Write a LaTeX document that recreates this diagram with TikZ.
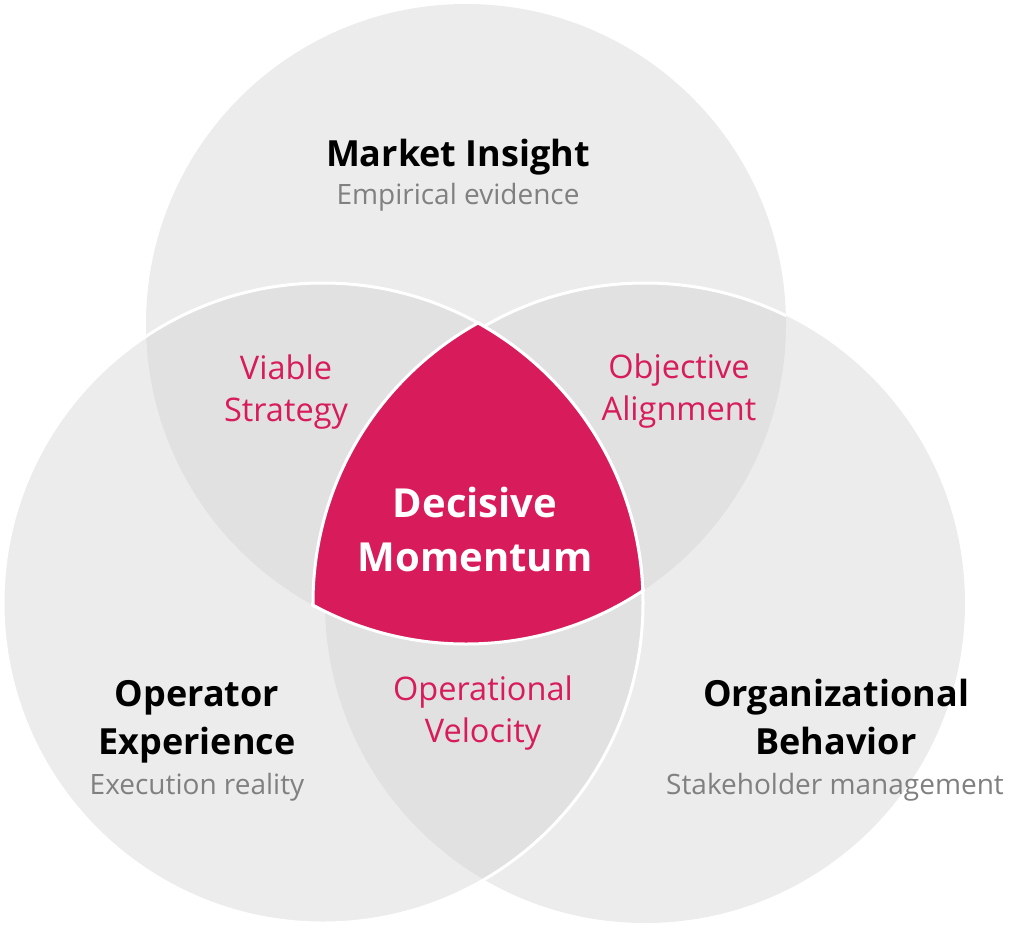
\documentclass[tikz,border=0pt]{standalone}
\usepackage{fontspec}
\setmainfont{Open Sans}
\usepackage{tikz}

\definecolor{venn}{RGB}{236,236,236}
\definecolor{vennover}{RGB}{225,225,225}
\definecolor{crimson}{RGB}{216,27,91}
\definecolor{subgray}{RGB}{128,128,128}

\begin{document}
\begin{tikzpicture}[x=1pt, y=-1pt]
			\tikzstyle{rim} = [draw=white, line width=3pt]
			\tikzstyle{title} = [anchor=base, align=center, inner sep=0pt, font=\bfseries\fontsize{36}{48}\selectfont]
			\tikzstyle{sub} = [anchor=base, align=center, inner sep=0pt, text=subgray, font=\fontsize{28}{32}\selectfont]
			\tikzstyle{pair} = [anchor=base, align=center, inner sep=0pt, text=crimson, font=\fontsize{32.5}{42}\selectfont]
			\tikzstyle{core} = [anchor=base, align=center, inner sep=0pt, text=white, font=\bfseries\fontsize{40}{54}\selectfont]
			\def\rad{320pt}
			\useasboundingbox (0,0) rectangle (1024,928);

			\coordinate (mc) at (466,324);
			\coordinate (oc) at (323,603);
			\coordinate (bc) at (645,603);
			\coordinate (cc) at (633,603);

			% discs
			\fill[venn] (mc) circle[radius=\rad] (oc) circle[radius=\rad] (bc) circle[radius=\rad];
			\begin{scope}
			\clip (mc) circle[radius=\rad];
			\fill[vennover] (oc) circle[radius=\rad] (bc) circle[radius=\rad];
			\end{scope}
			\begin{scope}
			\clip (oc) circle[radius=\rad];
			\fill[vennover] (bc) circle[radius=\rad];
			\end{scope}

			% white rims
			\draw[rim] (oc) circle[radius=\rad];
			\begin{scope}
			\clip (mc) circle[radius=\rad];
			\draw[rim] (bc) circle[radius=\rad];
			\end{scope}

			% centre
			\begin{scope}
			\clip (mc) circle[radius=\rad];
			\clip (oc) circle[radius=\rad];
			\fill[crimson] (cc) circle[radius=\rad];
			\end{scope}
			\begin{scope}
			\clip (oc) circle[radius=322pt];
			\clip (cc) circle[radius=322pt];
			\draw[rim] (mc) circle[radius=\rad];
			\end{scope}
			\begin{scope}
			\clip (mc) circle[radius=322pt];
			\clip (cc) circle[radius=322pt];
			\draw[rim] (oc) circle[radius=\rad];
			\end{scope}
			\begin{scope}
			\clip (mc) circle[radius=322pt];
			\clip (oc) circle[radius=322pt];
			\draw[rim] (cc) circle[radius=\rad];
			\end{scope}

			\path
			node[title] (mi) at (458,167) {Market Insight}
			node[sub] (mis) at (458,204) {Empirical evidence}
			node[title] (oe) at (197,754) {Operator\\Experience}
			node[sub] (oes) at (197,794) {Execution reality}
			node[title] (ob) at (836,754) {Organizational\\Behavior}
			node[sub] (obs) at (835,794) {Stakeholder management}

			node[pair] (vs) at (286,421) {Viable\\Strategy}
			node[pair] (oa) at (679,420) {Objective\\Alignment}
			node[pair] (ov) at (483,742) {Operational\\Velocity}
			node[core] (dm) at (475,571) {Decisive\\Momentum}
			;
			\end{tikzpicture}
\end{document}
